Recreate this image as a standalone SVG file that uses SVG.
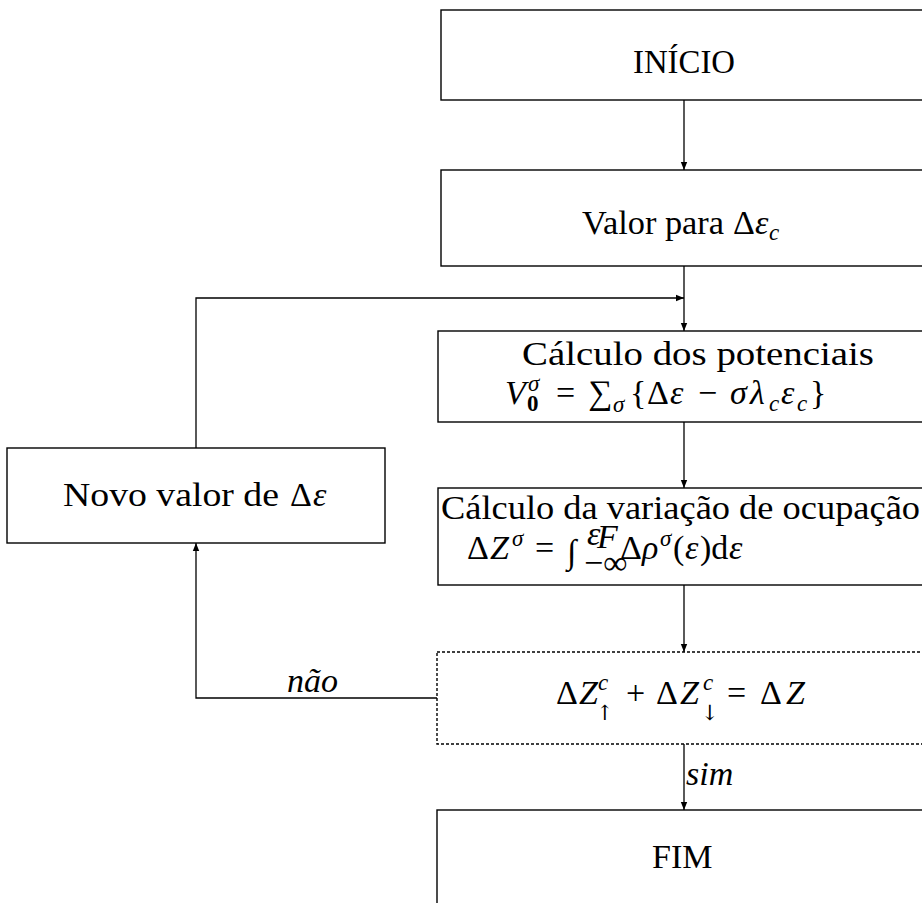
<svg xmlns="http://www.w3.org/2000/svg" width="922" height="903" viewBox="0 0 922 903">
<defs>
<style>
text{font-family:"Liberation Serif","DejaVu Serif",serif;font-size:34px;fill:#000}
.it{font-style:italic}
.sb{font-size:23px}
.ar{font-family:"DejaVu Serif",serif;font-size:21px}
.box{fill:none;stroke:#000;stroke-width:1.4}
.dot{fill:none;stroke:#000;stroke-width:1.4;stroke-dasharray:3 2}
.con path{fill:none;stroke:#000;stroke-width:1.3}
</style>
<marker id="ah" viewBox="0 0 10 10" refX="10" refY="5" markerWidth="8" markerHeight="8" markerUnits="userSpaceOnUse" orient="auto">
<path d="M0,1 L10,5 L0,9 Z" fill="#000"/>
</marker>
</defs>
<rect width="922" height="903" fill="#fff"/>
<g id="inicio">
<rect class="box" x="441" y="10" width="500" height="90"/>
<text x="633" y="73" textLength="102" lengthAdjust="spacingAndGlyphs">INÍCIO</text>
</g>
<g id="valor">
<rect class="box" x="441" y="170" width="500" height="96"/>
<text x="582" y="234" textLength="142" lengthAdjust="spacingAndGlyphs">Valor para</text>
<text x="733" y="234">Δ</text>
<text class="it" x="755" y="234">ε</text>
<text class="it sb" x="769" y="240">c</text>
</g>
<g id="potenciais">
<rect class="box" x="438" y="331" width="500" height="91"/>
<text x="522" y="365" textLength="352" lengthAdjust="spacingAndGlyphs">Cálculo dos potenciais</text>
<text class="it" x="505" y="404">V</text>
<text class="sb" x="527" y="411" font-weight="bold">0</text>
<text class="it sb" x="528" y="391">σ</text>
<text x="556" y="404">=</text>
<text x="588" y="404">∑</text>
<text class="it sb" x="613" y="412">σ</text>
<text x="630" y="404">{</text>
<text x="647" y="404">Δ</text>
<text class="it" x="670" y="404">ε</text>
<text x="698" y="404">−</text>
<text class="it" x="730" y="404">σ</text>
<text class="it" x="750" y="404">λ</text>
<text class="it sb" x="769" y="411">c</text>
<text class="it" x="781" y="404">ε</text>
<text class="it sb" x="797" y="411">c</text>
<text x="810" y="404">}</text>
</g>
<g id="novo">
<rect class="box" x="7" y="448" width="378" height="95"/>
<text x="63" y="506" textLength="216" lengthAdjust="spacingAndGlyphs">Novo valor de</text>
<text x="290" y="506">Δ</text>
<text class="it" x="313" y="506">ε</text>
</g>
<g id="ocupacao">
<rect class="box" x="438" y="488" width="500" height="97"/>
<text x="441" y="519" textLength="479" lengthAdjust="spacingAndGlyphs">Cálculo da variação de ocupação</text>
<text x="467" y="559">Δ</text>
<text class="it" x="490" y="559">Z</text>
<text class="it sb" x="512" y="546">σ</text>
<text x="535" y="559">=</text>
<text x="567" y="563" font-size="40">∫</text>
<text class="it" x="587" y="545" font-size="15">ε</text>
<text class="it" x="597" y="548" font-size="10">F</text>
<text x="584" y="574" font-size="15">−∞</text>
<text x="620" y="559">Δ</text>
<text class="it" x="642" y="559">ρ</text>
<text class="it sb" x="660" y="546">σ</text>
<text x="673" y="559">(</text>
<text class="it" x="685" y="559">ε</text>
<text x="700" y="559">)d</text>
<text class="it" x="729" y="559">ε</text>
</g>
<g id="teste">
<rect class="dot" x="437" y="652" width="500" height="92"/>
<text x="556" y="704">Δ</text>
<text class="it" x="579" y="704">Z</text>
<text class="it sb" x="598" y="690">c</text>
<text class="ar" x="596" y="720">↑</text>
<text x="626" y="704">+</text>
<text x="656" y="704">Δ</text>
<text class="it" x="680" y="704">Z</text>
<text class="it sb" x="703" y="690">c</text>
<text class="ar" x="701" y="720">↓</text>
<text x="727" y="704">=</text>
<text x="760" y="704">Δ</text>
<text class="it" x="786" y="704">Z</text>
</g>
<g id="fim">
<rect class="box" x="437" y="810" width="500" height="110"/>
<text x="652" y="868">FIM</text>
</g>
<g class="con" id="connectors">
<path d="M684,100 V170" marker-end="url(#ah)"/>
<path d="M684,266 V331" marker-end="url(#ah)"/>
<path d="M196,448 V298 H684" marker-end="url(#ah)"/>
<path d="M684,422 V488" marker-end="url(#ah)"/>
<path d="M684,585 V652" marker-end="url(#ah)"/>
<path d="M437,698 H196 V543" marker-end="url(#ah)"/>
<path d="M684,744 V810" marker-end="url(#ah)"/>
<text class="it" x="287" y="692" font-size="31">não</text>
<text class="it" x="686" y="785" font-size="31">sim</text>
</g>
</svg>
